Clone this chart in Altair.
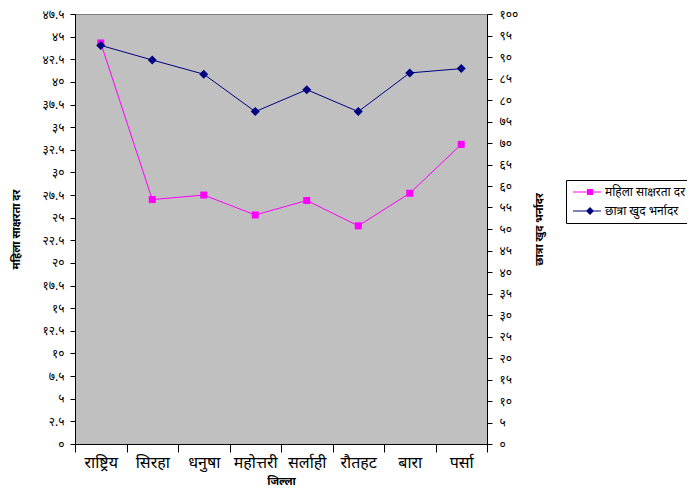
import altair as alt
import pandas as pd

districts = ["राष्ट्रिय", "सिरहा", "धनुषा", "महोत्तरी", "सर्लाही", "रौतहट", "बारा", "पर्सा"]
literacy = [44.3, 27.0, 27.5, 25.3, 26.9, 24.1, 27.7, 33.1]
enrollment = [92.7, 89.3, 86.0, 77.3, 82.4, 77.3, 86.3, 87.3]

series_names = ["महिला साक्षरता दर", "छात्रा खुद भर्नादर"]
series_colors = ["#FF00FF", "#000080"]
left_ticks = [i * 2.5 for i in range(20)]
right_ticks = list(range(0, 101, 5))
dev_digits = "०१२३४५६७८९"

FONT = "Noto Sans Devanagari, Lohit Devanagari, Noto Sans, sans-serif"


def to_dev(v):
    s = f"{v:g}"
    return "".join(dev_digits[int(c)] if c.isdigit() else c for c in s)


def label_expr(vals):
    expr = "''"
    for v in reversed(vals):
        expr = f"abs(datum.value - {v}) < 0.01 ? '{to_dev(v)}' : ({expr})"
    return expr


df = pd.DataFrame({"district": districts, "literacy": literacy, "enrollment": enrollment})
base = alt.Chart(df)

x = alt.X(
    "district:N",
    sort=districts,
    bandPosition=0.5,
    scale=alt.Scale(type="band", paddingInner=0, paddingOuter=0),
    axis=alt.Axis(
        title="जिल्ला", labelAngle=0, tickBand="extent", tickSize=8,
        labelFontSize=16, labelPadding=2, titleFontSize=11,
        titleFontWeight="bold", titleY=40, titleBaseline="alphabetic",
    ),
)

yL = alt.Y(
    "literacy:Q",
    scale=alt.Scale(domain=[0, 47.5], nice=False, zero=True),
    axis=alt.Axis(
        title="महिला साक्षरता दर", values=left_ticks, labelExpr=label_expr(left_ticks),
        grid=False, orient="left", tickSize=5, labelFontSize=12, labelPadding=6,
        titleFontSize=11, titleFontWeight="bold", titlePadding=21,
    ),
)

yR = alt.Y(
    "enrollment:Q",
    scale=alt.Scale(domain=[0, 100], nice=False, zero=True),
    axis=alt.Axis(
        title="छात्रा खुद भर्नादर", values=right_ticks, labelExpr=label_expr(right_ticks),
        grid=False, orient="right", tickSize=5, labelFontSize=12, labelPadding=7,
        titleFontSize=11, titleFontWeight="bold", titlePadding=27, titleAngle=270,
    ),
)

pink_line = base.mark_line(color=series_colors[0], strokeWidth=1).encode(x=x, y=yL)
pink_pts = base.mark_point(shape="square", filled=True, size=49, color=series_colors[0], opacity=1).encode(x=x, y=yL)

pink_path = "M-1,-0.1H4.6V0.1H-1Z M1.8,-0.6H3V0.6H1.8Z"
navy_path = "M-1,-0.1H4.6V0.1H-1Z M2.4,-0.8L3.2,0L2.4,0.8L1.6,0Z"

leg = alt.Legend(
    title=None, orient="none", legendX=491, legendY=166, fillColor="white",
    strokeColor="black", padding=6, symbolSize=100, symbolStrokeWidth=0,
    labelFontSize=12, labelOffset=21, rowPadding=7, symbolOpacity=1,
    labelLimit=300, cornerRadius=0, labelFont=FONT,
)

legend_layer = (
    base.transform_calculate(s="'" + series_names[0] + "'")
    .transform_filter("false")
    .mark_point(filled=True)
    .encode(
        x=x, y=yL,
        color=alt.Color("s:N", scale=alt.Scale(domain=series_names, range=series_colors), legend=leg),
        shape=alt.Shape("s:N", scale=alt.Scale(domain=series_names, range=[pink_path, navy_path]), legend=leg),
    )
)

blue_line = base.mark_line(color=series_colors[1], strokeWidth=1).encode(x=x, y=yR)
blue_pts = base.mark_point(shape="diamond", filled=True, size=81, color=series_colors[1], opacity=1).encode(x=x, y=yR)

left = alt.layer(pink_line, pink_pts, legend_layer)
right = alt.layer(blue_line, blue_pts)

chart = (
    alt.layer(left, right)
    .resolve_scale(y="independent")
    .properties(
        width=412, height=430,
        autosize=alt.AutoSizeParams(type="none"),
        padding={"left": 67, "top": 6, "right": 200, "bottom": 44},
        background="white",
    )
    .configure_view(fill="#C0C0C0", stroke="#808080")
    .configure_axis(
        domainColor="black", tickColor="black", labelColor="black", titleColor="black",
        labelFont=FONT, titleFont=FONT, domainWidth=1, tickWidth=1,
    )
    .configure_legend(labelFont=FONT, labelColor="black")
)

chart.save("out.html", embed_options={"renderer": "svg", "actions": False})
